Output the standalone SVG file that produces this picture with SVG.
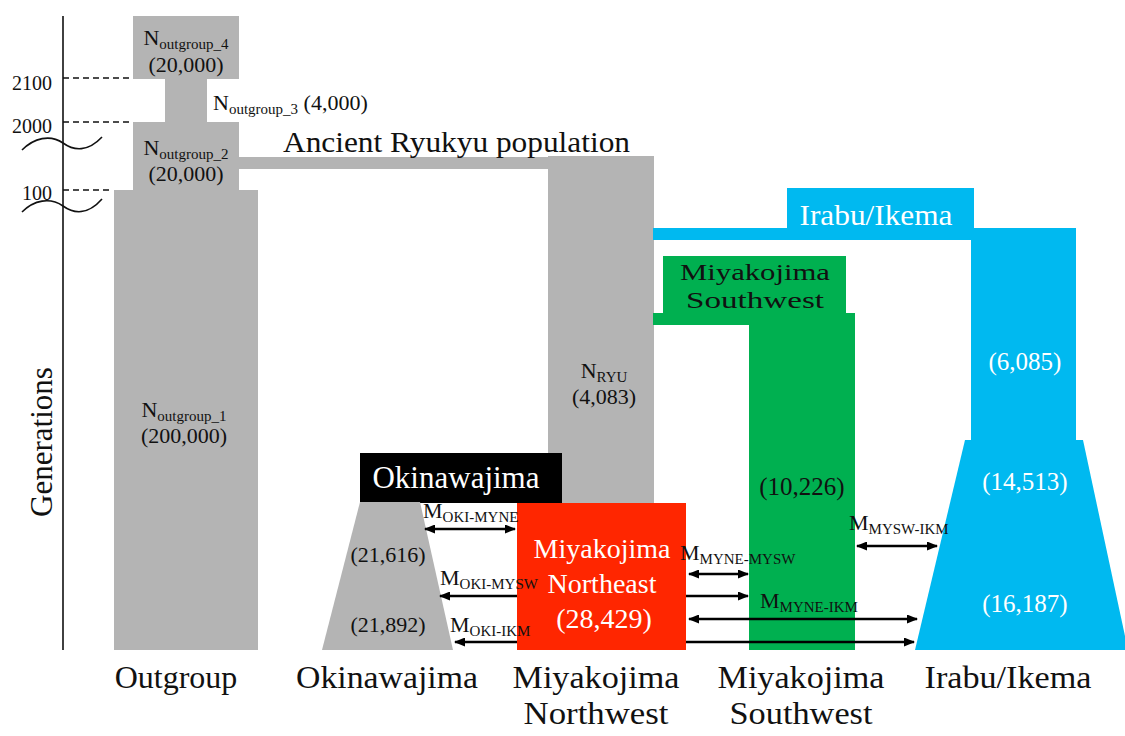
<svg xmlns="http://www.w3.org/2000/svg" width="1125" height="736" viewBox="0 0 1125 736" font-family="Liberation Serif, Times New Roman, serif">
<style>
text{font-family:Liberation Serif, serif;fill:#111}
.gray{fill:#b4b4b4}
.cyan{fill:#00b9f0}
.green{fill:#00b050}
.red{fill:#ff2600}
.w{fill:#fff}
.lbl{font-size:32px;text-anchor:middle}
.v{font-size:22px}
.sub{font-size:15px}
.ax{stroke:#111;stroke-width:1.6;fill:none}
.dash{stroke:#111;stroke-width:1.4;stroke-dasharray:6 4}
.arr{stroke:#000;stroke-width:2.6;marker-start:url(#ah);marker-end:url(#ah)}
</style>
<defs>
<marker id="ah" markerUnits="userSpaceOnUse" markerWidth="11" markerHeight="9" refX="10" refY="4.5" orient="auto-start-reverse" viewBox="0 0 11 9">
<path d="M0,0 L11,4.5 L0,9 z" fill="#000"/>
</marker>
</defs>
<rect width="1125" height="736" fill="#fff"/>

<g id="axis">
<line class="ax" x1="63" y1="16" x2="63" y2="650"/>
<line class="dash" x1="63" y1="78" x2="133" y2="78"/>
<line class="dash" x1="63" y1="122" x2="133" y2="122"/>
<line class="dash" x1="63" y1="190" x2="113" y2="190"/>
<path class="ax" d="M22,150 C34,138 50,134 63,143 C74,151 88,152 102,137"/>
<path class="ax" d="M22,212 C34,200 50,197 63,206 C74,214 88,215 102,199"/>
<text x="52" y="90" font-size="20" text-anchor="end">2100</text>
<text x="52" y="133" font-size="20" text-anchor="end">2000</text>
<text x="52" y="200" font-size="20" text-anchor="end">100</text>
<text transform="translate(52,442) rotate(-90)" font-size="31" text-anchor="middle">Generations</text>
</g>

<g id="outgroup">
<rect class="gray" x="133" y="16" width="106" height="63"/>
<rect class="gray" x="165" y="78" width="42" height="45"/>
<rect class="gray" x="133" y="122" width="106" height="69"/>
<rect class="gray" x="114" y="190" width="144" height="460"/>
<text class="v" x="186" y="45" text-anchor="middle">N<tspan class="sub" dy="4">outgroup_4</tspan></text>
<text class="v" x="186" y="72" text-anchor="middle">(20,000)</text>
<text class="v" x="213" y="110">N<tspan class="sub" dy="4">outgroup_3</tspan><tspan dy="-4"> (4,000)</tspan></text>
<text class="v" x="186" y="155" text-anchor="middle">N<tspan class="sub" dy="4">outgroup_2</tspan></text>
<text class="v" x="186" y="181" text-anchor="middle">(20,000)</text>
<text class="v" x="184" y="417" text-anchor="middle">N<tspan class="sub" dy="4">outgroup_1</tspan></text>
<text class="v" x="184" y="443" text-anchor="middle">(200,000)</text>
</g>

<g id="ancient-ryukyu">
<rect class="gray" x="238" y="157" width="316" height="12"/>
<rect class="gray" x="548" y="156" width="106" height="348"/>
<text x="283" y="152" font-size="30" textLength="347" lengthAdjust="spacingAndGlyphs">Ancient Ryukyu population</text>
<text class="v" x="604" y="378" text-anchor="middle">N<tspan class="sub" dy="4">RYU</tspan></text>
<text class="v" x="604" y="404" text-anchor="middle">(4,083)</text>
</g>

<g id="irabu-ikema">
<rect class="cyan" x="653" y="228" width="423" height="12"/>
<rect class="cyan" x="787" y="188" width="187" height="52"/>
<rect class="cyan" x="971" y="228" width="105" height="213"/>
<polygon class="cyan" points="965,440 1083,440 1128,650 915,650"/>
<text class="w" x="876" y="225" font-size="30" text-anchor="middle" textLength="153" lengthAdjust="spacingAndGlyphs">Irabu/Ikema</text>
<text class="w" x="1025" y="370" font-size="25" text-anchor="middle">(6,085)</text>
<text class="w" x="1025" y="490" font-size="25" text-anchor="middle">(14,513)</text>
<text class="w" x="1025" y="612" font-size="25" text-anchor="middle">(16,187)</text>
</g>

<g id="miyakojima-southwest">
<rect class="green" x="663" y="256" width="183" height="58"/>
<rect class="green" x="653" y="313" width="202" height="12"/>
<rect class="green" x="749" y="313" width="106" height="337"/>
<text x="755" y="280" font-size="24" text-anchor="middle" textLength="150" lengthAdjust="spacingAndGlyphs">Miyakojima</text>
<text x="755" y="308" font-size="24" text-anchor="middle" textLength="138" lengthAdjust="spacingAndGlyphs">Southwest</text>
<text x="802" y="495" font-size="25" text-anchor="middle">(10,226)</text>
</g>

<g id="okinawajima">
<rect x="360" y="453" width="202" height="50" fill="#000"/>
<polygon class="gray" points="360,502 420,502 453,650 322,650"/>
<text class="w" x="456" y="488" font-size="31" text-anchor="middle">Okinawajima</text>
<text class="v" x="388" y="562" text-anchor="middle">(21,616)</text>
<text class="v" x="388" y="632" text-anchor="middle">(21,892)</text>
</g>

<g id="connectors">
<line class="arr" x1="425" y1="529" x2="515" y2="529"/>
<line class="arr" x1="440" y1="596" x2="748" y2="596"/>
<line class="arr" x1="455" y1="642" x2="914" y2="642"/>
<line class="arr" x1="689" y1="574" x2="748" y2="574"/>
<line class="arr" x1="689" y1="619" x2="917" y2="619"/>
<line class="arr" x1="857" y1="546" x2="937" y2="546"/>
</g>

<g id="miyakojima-northeast">
<rect class="red" x="517" y="503" width="169" height="147"/>
<text class="w" x="602" y="558" font-size="28" text-anchor="middle">Miyakojima</text>
<text class="w" x="602" y="593" font-size="28" text-anchor="middle">Northeast</text>
<text class="w" x="604" y="628" font-size="28" text-anchor="middle">(28,429)</text>
</g>

<g id="migration-labels">
<text class="v" x="423" y="518">M<tspan class="sub" dy="4">OKI-MYNE</tspan></text>
<text class="v" x="440" y="585">M<tspan class="sub" dy="4">OKI-MYSW</tspan></text>
<text class="v" x="450" y="632">M<tspan class="sub" dy="4">OKI-IKM</tspan></text>
<text class="v" x="680" y="560">M<tspan class="sub" dy="4">MYNE-MYSW</tspan></text>
<text class="v" x="760" y="608">M<tspan class="sub" dy="4">MYNE-IKM</tspan></text>
<text class="v" x="849" y="530">M<tspan class="sub" dy="4">MYSW-IKM</tspan></text>
</g>

<g id="population-labels">
<text class="lbl" x="176" y="688">Outgroup</text>
<text class="lbl" x="387" y="688" textLength="182" lengthAdjust="spacingAndGlyphs">Okinawajima</text>
<text class="lbl" x="596" y="688" textLength="167" lengthAdjust="spacingAndGlyphs">Miyakojima</text>
<text class="lbl" x="596" y="724" textLength="145" lengthAdjust="spacingAndGlyphs">Northwest</text>
<text class="lbl" x="801" y="688" textLength="167" lengthAdjust="spacingAndGlyphs">Miyakojima</text>
<text class="lbl" x="801" y="724" textLength="143" lengthAdjust="spacingAndGlyphs">Southwest</text>
<text class="lbl" x="1008" y="688" textLength="167" lengthAdjust="spacingAndGlyphs">Irabu/Ikema</text>
</g>
</svg>
